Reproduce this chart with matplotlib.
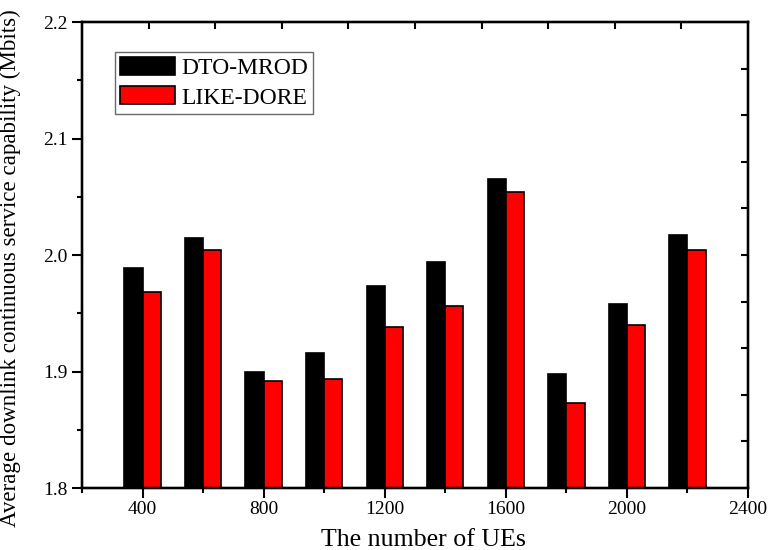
import numpy as np
import matplotlib
matplotlib.use("Agg")
import matplotlib.pyplot as plt
from matplotlib.ticker import MultipleLocator

plt.rcParams['font.family'] = ['Liberation Serif', 'DejaVu Serif']

# Number of UEs and the two schemes' average downlink service capability
num_ues = [400, 600, 800, 1000, 1200, 1400, 1600, 1800, 2000, 2200]
dto_mrod = [1.989, 2.015, 1.900, 1.916, 1.973, 1.994, 2.065, 1.898, 1.958, 2.017]
like_dore = [1.968, 2.004, 1.892, 1.894, 1.938, 1.956, 2.054, 1.873, 1.940, 2.004]
series_names = ["DTO-MROD", "LIKE-DORE"]

x_ticks = [400, 800, 1200, 1600, 2000, 2400]
y_ticks = [1.8, 1.9, 2.0, 2.1, 2.2]

fig = plt.figure(figsize=(7.69, 5.5), dpi=100)
ax = fig.add_axes([0.1066, 0.1127, 0.8661, 0.8473])

bar_w = 60
x = np.array(num_ues)
ax.bar(x - bar_w / 2, dto_mrod, width=bar_w, color='black', edgecolor='black',
       linewidth=1.2, label=series_names[0], zorder=2)
ax.bar(x + bar_w / 2, like_dore, width=bar_w, color='#ff0000', edgecolor='black',
       linewidth=1.2, label=series_names[1], zorder=2)

ax.set_xlim(200, 2400)
ax.set_ylim(1.8, 2.2)
ax.set_xticks(x_ticks)
ax.set_yticks(y_ticks)
ax.set_yticklabels([f"{v:.1f}" for v in y_ticks])
ax.xaxis.set_minor_locator(MultipleLocator(200))
ax.yaxis.set_minor_locator(MultipleLocator(0.05))
ax.tick_params(which='major', direction='out', length=7, width=1.5, labelsize=14)
ax.tick_params(which='minor', direction='out', length=3.6, width=1.5)
ax.tick_params(axis='x', pad=2.5)
for s in ax.spines.values():
    s.set_linewidth(1.6)

ax.set_xlabel("The number of UEs", fontsize=18.6)
ax.xaxis.set_label_coords(0.513, -0.088)
ax.set_ylabel("Average downlink continuous service capability (Mbits)", fontsize=16.6)
ax.yaxis.set_label_coords(-0.092, 0.472)

# Unlabelled inward ticks on the top and right frame edges
top = ax.twiny()
top.set_xlim(0, 10)
top.set_xticks(range(1, 10))
top.tick_params(direction='in', length=5, width=1.5, labeltop=False)
right = ax.twinx()
right.set_ylim(0, 10)
right.set_yticks(range(1, 10))
right.tick_params(direction='in', length=5, width=1.5, labelright=False)
for a in (top, right):
    for s in a.spines.values():
        s.set_linewidth(1.6)

leg = ax.legend(loc='upper left', bbox_to_anchor=(0.05, 0.936), borderaxespad=0,
                fontsize=17, frameon=True, fancybox=False, edgecolor='#444444',
                handlelength=2.3, handleheight=0.8, handletextpad=0.28,
                borderpad=0.22, labelspacing=0.3)
leg.get_frame().set_linewidth(1.0)

fig.savefig("out.png", dpi=100)
